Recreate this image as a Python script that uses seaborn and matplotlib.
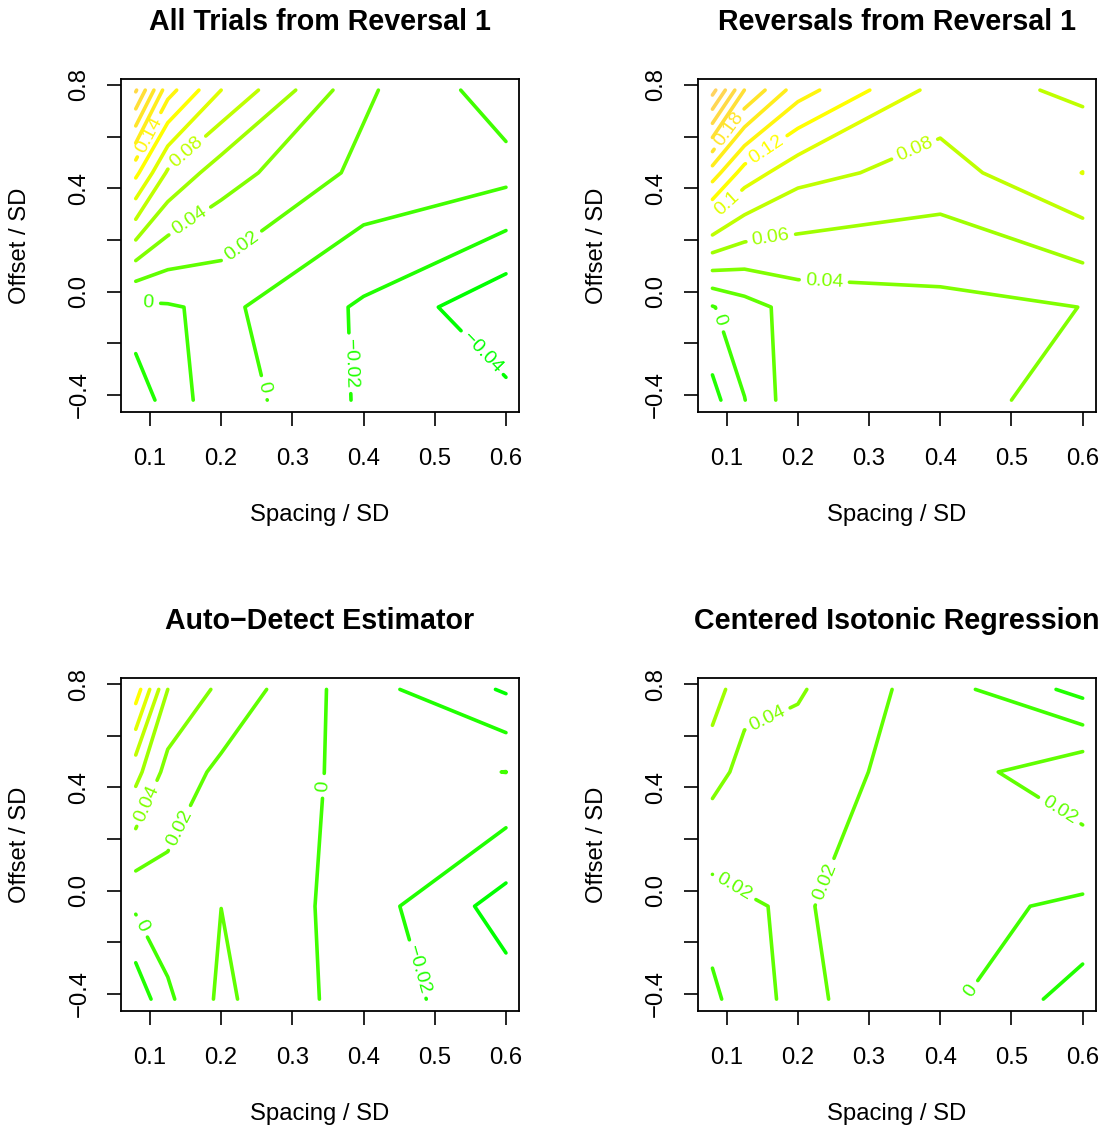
import colorsys
import matplotlib
matplotlib.use("Agg")
import matplotlib.pyplot as plt
import seaborn as sns

# grid of the simulation
spacing = [0.08, 0.125, 0.2, 0.4, 0.6]
offset = [-0.42, -0.06, 0.46, 0.78]

# one row per offset (bottom to top), one column per spacing
all_trials = [
    [-0.035, -0.010, 0.011, -0.023, -0.035],
    [-0.005, -0.002, 0.0046, -0.023, -0.0554],
    [0.125, 0.077, 0.049, 0.0146, 0.0067],
    [0.222, 0.148, 0.100, 0.0236, -0.011],
]
reversals = [
    [-0.027, -0.0005, 0.0345, 0.035, 0.045],
    [-0.0012, 0.012, 0.028, 0.0344, 0.0402],
    [0.150, 0.111, 0.0867, 0.0714, 0.1003],
    [0.267, 0.1997, 0.1487, 0.0919, 0.0749],
]
auto_detect = [
    [-0.035, -0.0036, 0.024, -0.0108, -0.0317],
    [0.0033, 0.0115, 0.0199, -0.0103, -0.0484],
    [0.0668, 0.0324, 0.0155, -0.0059, 0.0002],
    [0.131, 0.060, 0.0352, -0.0124, -0.0422],
]
cir = [
    [-0.0058, 0.0143, 0.0238, 0.0062, -0.030],
    [0.0116, 0.0185, 0.0219, 0.006, -0.0035],
    [0.047, 0.0341, 0.0303, 0.0095, 0.0353],
    [0.070, 0.0457, 0.0421, 0.0087, -0.0266],
]

titles = ["All Trials from Reversal 1", "Reversals from Reversal 1",
          "Auto\u2212Detect Estimator", "Centered Isotonic Regression"]
levels_all = [-0.04, -0.02, 0, 0.02, 0.04, 0.06, 0.08, 0.10, 0.12, 0.14, 0.16, 0.18, 0.20, 0.22]
levels_rev = [-0.02, 0, 0.02, 0.04, 0.06, 0.08, 0.10, 0.12, 0.14, 0.16, 0.18, 0.20, 0.22, 0.24, 0.26]
levels_auto = [-0.04, -0.02, 0, 0.02, 0.04, 0.06, 0.08, 0.10, 0.12]
levels_cir = [-0.02, 0, 0.02, 0.04, 0.06]

# where the contour labels sit (data coords)
labels_all = [(0.097, 0.61), (0.1515, 0.539), (0.156, 0.273), (0.229, 0.176),
              (0.0976, -0.038), (0.266, -0.368), (0.384, -0.277), (0.566, -0.238)]
labels_rev = [(0.102, 0.632), (0.156, 0.548), (0.1, 0.342), (0.3645, 0.548),
              (0.162, 0.206), (0.237, 0.036), (0.0906, -0.11)]
labels_auto = [(0.0954, 0.339), (0.142, 0.2425), (0.345, 0.406), (0.0874, -0.138),
               (0.4806, -0.3)]
labels_cir = [(0.158, 0.662), (0.1117, 0.02), (0.2395, 0.033), (0.567, 0.307),
              (0.437, -0.377)]

xticks = [0.1, 0.2, 0.3, 0.4, 0.5, 0.6]
yticks = [-0.4, -0.2, 0.0, 0.2, 0.4, 0.6, 0.8]
ytick_labels = ["\u22120.4", "", "0.0", "", "0.4", "", "0.8"]

sns.set_style("ticks")
plt.rcParams["font.family"] = ["Liberation Sans", "DejaVu Sans"]
plt.rcParams["text.color"] = "black"
plt.rcParams["axes.labelcolor"] = "black"
plt.rcParams["xtick.color"] = "black"
plt.rcParams["ytick.color"] = "black"


def level_colour(lev):
    hue = 120 - 375 * (lev + 0.04)
    sat = 1.0
    if hue < 60:
        over = lev - 0.12
        hue = 60 - 120 * over
        sat = 1 - 2.7 * over
    return colorsys.hsv_to_rgb(hue / 360, sat, 1.0)


def fmt_level(lev):
    s = f"{round(lev, 4):g}"
    return s.replace("-", "\u2212")


W, H = 1105, 1130
fig = plt.figure(figsize=(W / 100, H / 100), dpi=100)

boxes = [(121, 519, 79, 412), (697.7, 1095.7, 79, 412),
         (121, 519, 678.3, 1011), (697.7, 1095.7, 678.3, 1011)]
data = [all_trials, reversals, auto_detect, cir]
levels = [levels_all, levels_rev, levels_auto, levels_cir]
label_pos = [labels_all, labels_rev, labels_auto, labels_cir]

for k in range(4):
    l, r, t, b = boxes[k]
    ax = fig.add_axes([l / W, 1 - b / H, (r - l) / W, (b - t) / H])
    levs = levels[k]
    cs = ax.contour(spacing, offset, data[k], levels=levs,
                    colors=[level_colour(v) for v in levs],
                    linewidths=2.6, linestyles="solid")
    cs.set_capstyle("round")
    ax.clabel(cs, manual=label_pos[k], fmt=fmt_level, fontsize=14,
              inline=True, inline_spacing=8)

    ax.set_xlim(0.0593, 0.6183)
    ax.set_ylim(-0.466, 0.823)
    ax.set_xticks(xticks)
    ax.set_xticklabels([f"{v:.1f}" for v in xticks])
    ax.set_yticks(yticks)
    ax.set_yticklabels(ytick_labels)
    for lab in ax.get_yticklabels():
        lab.set_rotation(90)
        lab.set_va("center")
    ax.tick_params(axis="both", direction="out", length=10, width=1.2,
                   labelsize=17.2, color="black", labelcolor="black")
    ax.tick_params(axis="x", pad=16)
    ax.tick_params(axis="y", pad=12)
    for sp in ax.spines.values():
        sp.set_visible(True)
        sp.set_linewidth(1.3)
        sp.set_color("black")
    ax.set_facecolor("white")

    cx = (l + r) / 2
    cy = (t + b) / 2
    fig.text(cx / W, 1 - (t - 57) / H, titles[k], ha="center", va="center",
             fontsize=20.6, fontweight="bold", color="black")
    fig.text(cx / W, 1 - (b + 103) / H, "Spacing / SD", ha="center",
             va="center", fontsize=17.2, color="black")
    fig.text((l - 101) / W, 1 - cy / H, "Offset / SD", ha="center",
             va="center", rotation=90, fontsize=17.2, color="black")

fig.savefig("out.png", dpi=100, facecolor="white")
